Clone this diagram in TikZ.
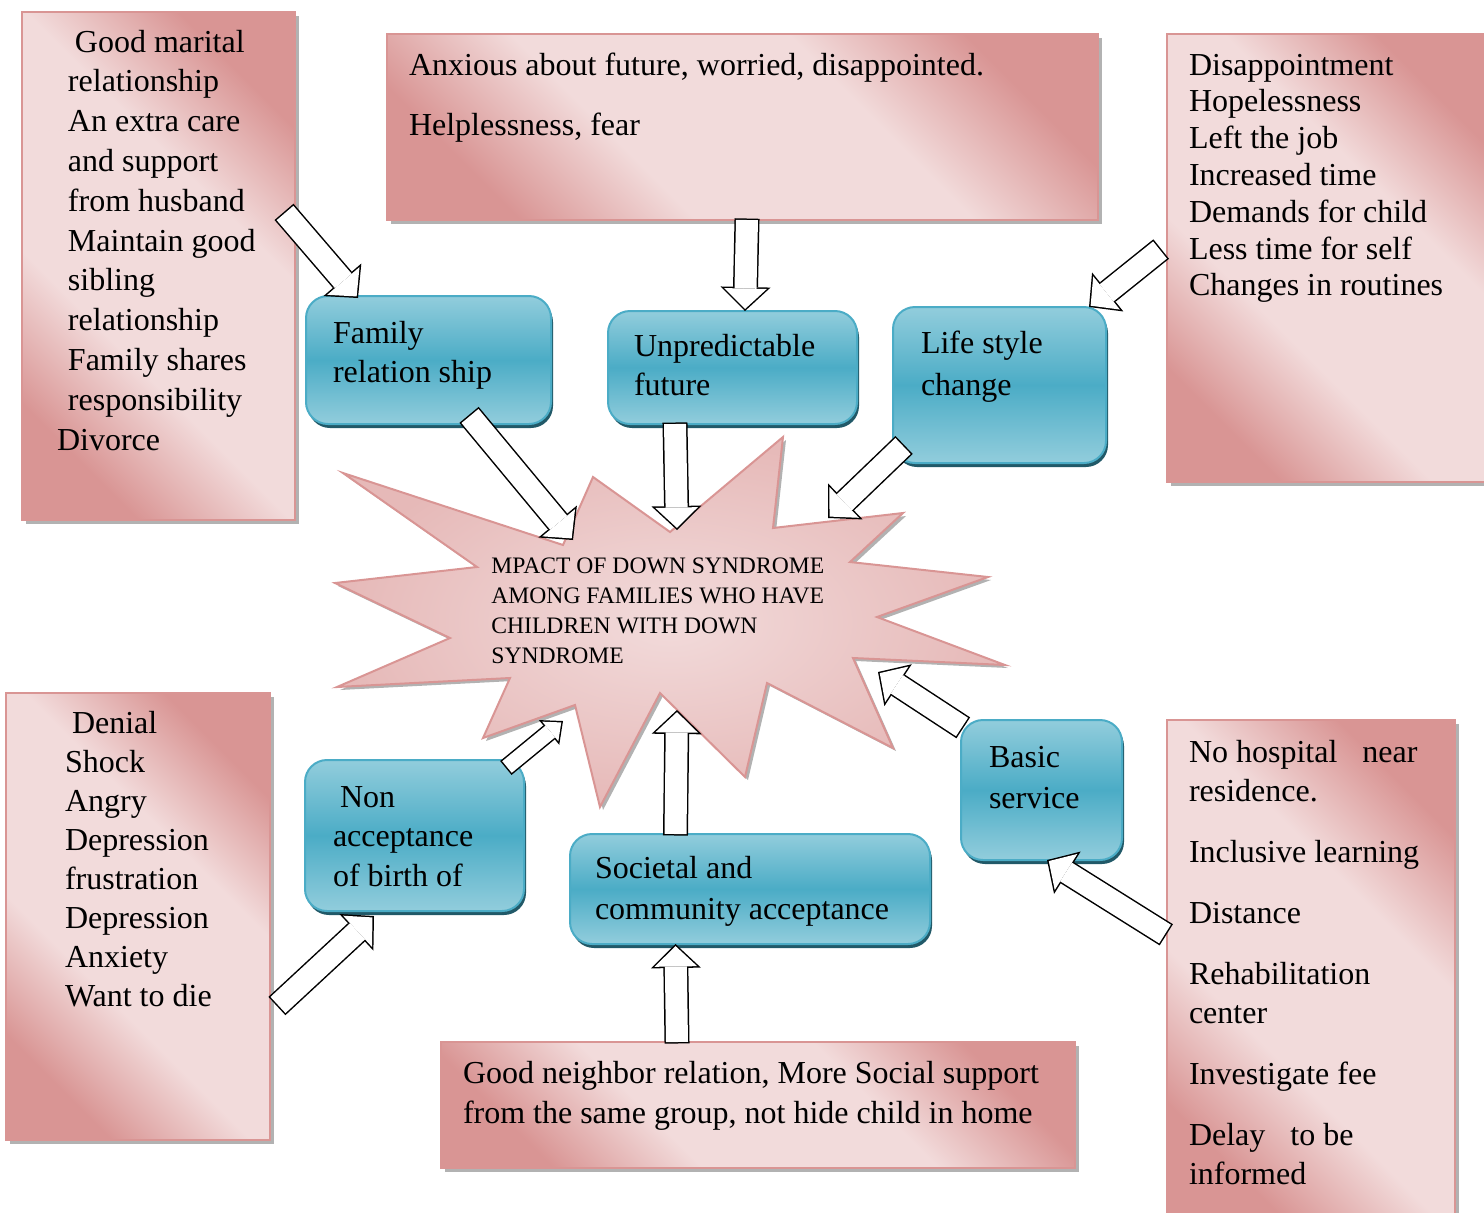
\documentclass[tikz,border=0pt]{standalone}
\usepackage{fontspec}
\setmainfont{Liberation Serif}
\usetikzlibrary{calc,shadows,arrows.meta,positioning}
\definecolor{pinkdark}{HTML}{D99594}
\definecolor{pinklight}{HTML}{F2DBDB}
\definecolor{starouter}{HTML}{E6B9B8}
\definecolor{bluelight}{HTML}{92CDDC}
\definecolor{bluedark}{HTML}{4BACC6}
\definecolor{bluedeep}{HTML}{215968}
\pgfdeclareverticalshading{pinkband}{100bp}{color(0bp)=(pinkdark); color(25bp)=(pinkdark);
  color(39bp)=(pinklight); color(61bp)=(pinklight); color(75bp)=(pinkdark); color(100bp)=(pinkdark)}
\newcommand{\toppad}[1]{\rule{0pt}{#1}}
\tikzset{
  pinkbox/.style={rectangle, draw=pinkdark, line width=0.6pt, inner sep=0pt, outer sep=0pt,
    anchor=north west, shade, shading=pinkband, shading angle=-45,
    drop shadow={shadow xshift=2pt, shadow yshift=-2pt, fill=gray!60, opacity=1}},
  bluebox/.style={rectangle, rounded corners=11pt, draw=bluedark, line width=1pt,
    inner sep=0pt, outer sep=0pt, anchor=north west,
    top color=bluelight, bottom color=bluelight, middle color=bluedark,
    drop shadow={shadow xshift=1pt, shadow yshift=-2pt, fill=bluedeep, opacity=1}},
  burst/.style={draw=pinkdark, line width=1pt, inner color=pinklight, outer color=starouter,
    drop shadow={shadow xshift=1.5pt, shadow yshift=-1.5pt, fill=gray!60, opacity=1}},
  blockarrow/.style={line width=11pt, white, shorten >=1.04pt,
    -{Triangle[length=10.2pt, width=21.3pt, line width=0pt]},
    preaction={draw=black, line width=12.5pt, shorten >=0pt, shorten <=-0.75pt,
      -{Triangle[length=12pt, width=25pt, line width=0pt]}}},
  blockarrow small/.style={line width=7.5pt, white, shorten >=1.13pt,
    -{Triangle[length=7.1pt, width=12.7pt, line width=0pt]},
    preaction={draw=black, line width=9pt, shorten >=0pt, shorten <=-0.75pt,
      -{Triangle[length=9pt, width=16pt, line width=0pt]}}},
}

\begin{document}
\begin{tikzpicture}[x=0.5pt, y=-0.5pt, every node/.style={font=\fontsize{16pt}{19.5pt}\selectfont}]
\useasboundingbox (0,0) rectangle (1484,1212);

% pink text boxes
\node[pinkbox, font=\fontsize{16pt}{19.9pt}\selectfont] (lt) at (22,12)
  {\parbox[t][254pt][t]{136.5pt}{\leftskip=23pt\relax\toppad{20pt}\hspace*{3.5pt}Good marital\\
   relationship\\ An extra care\\ and support\\ from husband\\ Maintain good\\ sibling\\
   relationship\\ Family shares\\ responsibility\\ \hspace*{-5.5pt}Divorce}};
\node[pinkbox] (tm) at (387,34)
  {\parbox[t][93pt][t]{355.5pt}{\leftskip=11pt\relax\toppad{20.5pt}Anxious about future, worried, disappointed.\\[10.5pt]
   Helplessness, fear}};
\node[pinkbox, font=\fontsize{16pt}{18.4pt}\selectfont] (rt) at (1167,34)
  {\parbox[t][224pt][t]{161.5pt}{\leftskip=11pt\relax\toppad{20.5pt}Disappointment\\ Hopelessness\\
   Left the job\\ Increased time\\ Demands for child\\ Less time for self\\ Changes in routines}};
\node[pinkbox] (lb) at (6,693)
  {\parbox[t][223.5pt][t]{132pt}{\leftskip=29.5pt\relax\toppad{20pt}\hspace*{3.5pt}Denial\\ Shock\\
   Angry\\ Depression\\ frustration\\ Depression\\ Anxiety\\ Want to die}};
\node[pinkbox, font=\fontsize{16pt}{20pt}\selectfont] (bm) at (441,1042)
  {\parbox[t][63pt][t]{317pt}{\leftskip=11pt\relax\toppad{20.5pt}Good neighbor relation, More Social support\\
   from the same group, not hide child in home}};
\node[pinkbox] (rb) at (1167,720)
  {\parbox[t][250pt][t]{144pt}{\leftskip=11pt\relax\toppad{21pt}No hospital\hspace{12.5pt}near\\
   residence.\\[11pt] Inclusive learning\\[11pt] Distance\\[11pt] Rehabilitation\\ center\\[11pt]
   Investigate fee\\[11pt] Delay\hspace{12.5pt}to be\\ informed}};

% centre burst
\draw[burst] (343,473) -- (563,545) -- (593,477) -- (670,532) -- (783,437) -- (773,528)
  -- (903,513) -- (850,562) -- (988,577) -- (877,617) -- (1005,665) -- (853,658)
  -- (893,748) -- (767,683) -- (745,777) -- (660,693) -- (600,807) -- (575,705)
  -- (483,738) -- (510,678) -- (337,687) -- (450,638) -- (335,583) -- (477,567) -- cycle;
\node[font=\fontsize{11.8pt}{15pt}\selectfont, align=left, anchor=base west, inner sep=0pt] (impact) at (491,663)
  {MPACT OF DOWN SYNDROME\\ AMONG FAMILIES WHO HAVE\\ CHILDREN WITH DOWN\\ SYNDROME};

% blue boxes
\node[bluebox] (fam) at (306,296)
  {\parbox[t][64pt][t]{122.5pt}{\leftskip=13.5pt\relax\toppad{23.5pt}Family\\ relation ship}};
\node[bluebox] (unp) at (608,311)
  {\parbox[t][56.5pt][t]{124.5pt}{\leftskip=13pt\relax\toppad{22.5pt}Unpredictable\\ future}};
\node[bluebox, font=\fontsize{16pt}{21pt}\selectfont] (life) at (893,307)
  {\parbox[t][78pt][t]{106.5pt}{\leftskip=14pt\relax\toppad{23pt}Life style\\ change}};
\node[bluebox, font=\fontsize{16pt}{19.75pt}\selectfont] (non) at (305,760)
  {\parbox[t][75.5pt][t]{109.5pt}{\leftskip=14pt\relax\toppad{23.5pt}\hspace*{3.5pt}Non\\ acceptance\\ of birth of}};
\node[bluebox, font=\fontsize{16pt}{20.5pt}\selectfont] (soc) at (570,834)
  {\parbox[t][55pt][t]{180pt}{\leftskip=12.5pt\relax\toppad{22pt}Societal and\\ community acceptance}};
\node[bluebox, font=\fontsize{16pt}{20.5pt}\selectfont] (basic) at (961,720)
  {\parbox[t][70pt][t]{80.5pt}{\leftskip=14pt\relax\toppad{23.5pt}Basic\\ service}};

% where the arrows hit the burst
\coordinate (hit_fam) at (573,540);
\coordinate (hit_unp) at (677,530);
\coordinate (hit_life) at (828,518);
\coordinate (hit_non) at (563,721);
\coordinate (hit_soc) at (677,710);
\coordinate (hit_basic) at (878,672);

% block arrows
\draw[blockarrow] ([xshift=-5pt,yshift=-100.5pt]lt.north east) -- ([xshift=26pt,yshift=-1pt]fam.north west);
\draw[blockarrow] ([xshift=2.25pt]tm.south) -- ([xshift=6.25pt]unp.north);
\draw[blockarrow] ([xshift=-3.5pt,yshift=-108pt]rt.north west) -- ([xshift=-8.5pt]life.north east);
\draw[blockarrow] ([xshift=82pt,yshift=4pt]fam.south west) -- (hit_fam);
\draw[blockarrow] ([xshift=-28.75pt]unp.south) -- (hit_unp);
\draw[blockarrow] ([xshift=5pt,yshift=8.5pt]life.south west) -- (hit_life);
\draw[blockarrow small] ([xshift=-8.5pt,yshift=-3.5pt]non.north east) -- (hit_non);
\draw[blockarrow] ([xshift=-37.25pt]soc.north) -- (hit_soc);
\draw[blockarrow] ([xshift=0.5pt,yshift=-3.5pt]basic.north west) -- (hit_basic);
\draw[blockarrow] ([xshift=4pt,yshift=67.5pt]lb.south east) -- ([xshift=34.5pt,yshift=-2.5pt]non.south west);
\draw[blockarrow] ([xshift=-40.5pt]bm.north) -- ([xshift=-37.25pt]soc.south);
\draw[blockarrow] ([xshift=-1pt,yshift=-107pt]rb.north west) -- ([xshift=43pt]basic.south west);
\end{tikzpicture}
\end{document}
